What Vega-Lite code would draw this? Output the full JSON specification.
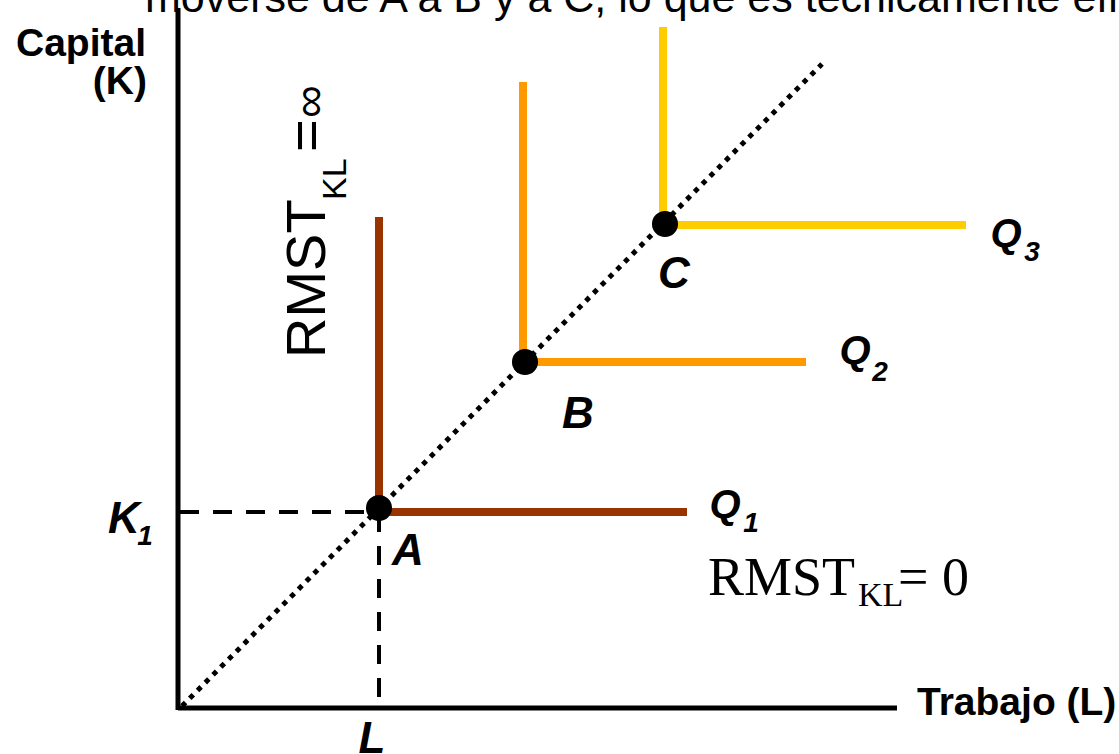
{
  "$schema": "https://vega.github.io/schema/vega-lite/v6.json",
  "width": 1119,
  "height": 754,
  "padding": 0,
  "autosize": {"type": "none"},
  "background": "white",
  "config": {"view": {"stroke": null}},
  "datasets": {
    "axes": [
      {"x": -2, "y": -2, "x2": -2, "y2": 700},
      {"x": -2, "y": 0, "x2": 717, "y2": 0}
    ],
    "dashed": [
      {"x": 0, "y": 196, "x2": 184, "y2": 196},
      {"x": 199, "y": 195, "x2": 199, "y2": 5}
    ],
    "diag": [{"x": 2, "y": 2, "x2": 642, "y2": 644}],
    "iso": [
      {"q": "Q1", "o": 1, "x": 199, "y": 491},
      {"q": "Q1", "o": 2, "x": 199, "y": 196},
      {"q": "Q1", "o": 3, "x": 507, "y": 196},
      {"q": "Q2", "o": 1, "x": 343, "y": 626},
      {"q": "Q2", "o": 2, "x": 343, "y": 346},
      {"q": "Q2", "o": 3, "x": 626, "y": 346},
      {"q": "Q3", "o": 1, "x": 483, "y": 681},
      {"q": "Q3", "o": 2, "x": 483, "y": 483},
      {"q": "Q3", "o": 3, "x": 786, "y": 483}
    ],
    "pts": [
      {"p": "A", "x": 199, "y": 200},
      {"p": "B", "x": 345, "y": 346},
      {"p": "C", "x": 485, "y": 484}
    ],
    "bigItalic": [
      {"t": "A", "x": 228, "y": 143},
      {"t": "B", "x": 398, "y": 280},
      {"t": "C", "x": 494, "y": 420},
      {"t": "K", "x": -56, "y": 175},
      {"t": "L", "x": 192, "y": -45}
    ],
    "qItalic": [
      {"t": "Q", "x": 545, "y": 190},
      {"t": "Q", "x": 675, "y": 344},
      {"t": "Q", "x": 826, "y": 461}
    ],
    "subItalic": [
      {"t": "1", "x": -35, "y": 163},
      {"t": "1", "x": 571, "y": 176},
      {"t": "2", "x": 700, "y": 327},
      {"t": "3", "x": 852, "y": 447}
    ],
    "boldRight": [
      {"t": "Capital", "x": -34, "y": 652},
      {"t": "(K)", "x": -33, "y": 614}
    ],
    "boldLeft": [
      {"t": "Trabajo (L)", "x": 737, "y": -7}
    ],
    "serifBig": [
      {"t": "RMST", "x": 528, "y": 113},
      {"t": "= 0", "x": 718, "y": 113}
    ],
    "serifSub": [
      {"t": "KL", "x": 678, "y": 102}
    ],
    "rotBig": [
      {"t": "RMST", "x": 145, "y": 350},
      {"t": "=", "x": 145, "y": 556}
    ],
    "rotInf": [
      {"t": "∞", "x": 145, "y": 590}
    ],
    "rotSub": [
      {"t": "KL", "x": 166, "y": 508}
    ],
    "top": [
      {"t": "moverse de A a B y a C, lo que es técnicamente eficiente", "x": -35, "y": 696}
    ]
  },
  "layer": [
    {
      "data": {"name": "iso"},
      "mark": {"type": "line", "strokeWidth": 8, "strokeJoin": "miter", "strokeCap": "butt"},
      "encoding": {
        "x": {"field": "x", "type": "quantitative", "scale": {"domain": [-180, 939], "nice": false, "zero": false}, "axis": null},
        "y": {"field": "y", "type": "quantitative", "scale": {"domain": [-46, 708], "nice": false, "zero": false}, "axis": null},
        "color": {"field": "q", "type": "nominal", "scale": {"domain": ["Q1", "Q2", "Q3"], "range": ["#993300", "#FF9900", "#FFCC00"]}, "legend": null},
        "order": {"field": "o", "type": "quantitative"}
      }
    },
    {
      "data": {"name": "axes"},
      "mark": {"type": "rule", "color": "black", "strokeWidth": 5},
      "encoding": {
        "x": {"field": "x", "type": "quantitative", "scale": {"domain": [-180, 939], "nice": false, "zero": false}, "axis": null},
        "y": {"field": "y", "type": "quantitative", "scale": {"domain": [-46, 708], "nice": false, "zero": false}, "axis": null},
        "x2": {"field": "x2"},
        "y2": {"field": "y2"}
      }
    },
    {
      "data": {"name": "dashed"},
      "mark": {"type": "rule", "color": "black", "strokeWidth": 4, "strokeDash": [19, 14]},
      "encoding": {
        "x": {"field": "x", "type": "quantitative", "scale": {"domain": [-180, 939], "nice": false, "zero": false}, "axis": null},
        "y": {"field": "y", "type": "quantitative", "scale": {"domain": [-46, 708], "nice": false, "zero": false}, "axis": null},
        "x2": {"field": "x2"},
        "y2": {"field": "y2"}
      }
    },
    {
      "data": {"name": "diag"},
      "mark": {"type": "rule", "color": "black", "strokeWidth": 5, "strokeDash": [5, 6]},
      "encoding": {
        "x": {"field": "x", "type": "quantitative", "scale": {"domain": [-180, 939], "nice": false, "zero": false}, "axis": null},
        "y": {"field": "y", "type": "quantitative", "scale": {"domain": [-46, 708], "nice": false, "zero": false}, "axis": null},
        "x2": {"field": "x2"},
        "y2": {"field": "y2"}
      }
    },
    {
      "data": {"name": "pts"},
      "mark": {"type": "circle", "color": "black", "opacity": 1, "size": 680},
      "encoding": {
        "x": {"field": "x", "type": "quantitative", "scale": {"domain": [-180, 939], "nice": false, "zero": false}, "axis": null},
        "y": {"field": "y", "type": "quantitative", "scale": {"domain": [-46, 708], "nice": false, "zero": false}, "axis": null}
      }
    },
    {
      "data": {"name": "bigItalic"},
      "mark": {"type": "text", "font": "Liberation Sans", "fontSize": 44, "fontWeight": "bold", "fontStyle": "italic", "align": "center", "baseline": "alphabetic", "color": "black"},
      "encoding": {
        "x": {"field": "x", "type": "quantitative", "scale": {"domain": [-180, 939], "nice": false, "zero": false}, "axis": null},
        "y": {"field": "y", "type": "quantitative", "scale": {"domain": [-46, 708], "nice": false, "zero": false}, "axis": null},
        "text": {"field": "t"}
      }
    },
    {
      "data": {"name": "qItalic"},
      "mark": {"type": "text", "font": "Liberation Sans", "fontSize": 40, "fontWeight": "bold", "fontStyle": "italic", "align": "center", "baseline": "alphabetic", "color": "black"},
      "encoding": {
        "x": {"field": "x", "type": "quantitative", "scale": {"domain": [-180, 939], "nice": false, "zero": false}, "axis": null},
        "y": {"field": "y", "type": "quantitative", "scale": {"domain": [-46, 708], "nice": false, "zero": false}, "axis": null},
        "text": {"field": "t"}
      }
    },
    {
      "data": {"name": "subItalic"},
      "mark": {"type": "text", "font": "Liberation Sans", "fontSize": 28, "fontWeight": "bold", "fontStyle": "italic", "align": "center", "baseline": "alphabetic", "color": "black"},
      "encoding": {
        "x": {"field": "x", "type": "quantitative", "scale": {"domain": [-180, 939], "nice": false, "zero": false}, "axis": null},
        "y": {"field": "y", "type": "quantitative", "scale": {"domain": [-46, 708], "nice": false, "zero": false}, "axis": null},
        "text": {"field": "t"}
      }
    },
    {
      "data": {"name": "boldRight"},
      "mark": {"type": "text", "font": "Liberation Sans", "fontSize": 39, "fontWeight": "bold", "align": "right", "baseline": "alphabetic", "color": "black"},
      "encoding": {
        "x": {"field": "x", "type": "quantitative", "scale": {"domain": [-180, 939], "nice": false, "zero": false}, "axis": null},
        "y": {"field": "y", "type": "quantitative", "scale": {"domain": [-46, 708], "nice": false, "zero": false}, "axis": null},
        "text": {"field": "t"}
      }
    },
    {
      "data": {"name": "boldLeft"},
      "mark": {"type": "text", "font": "Liberation Sans", "fontSize": 39, "fontWeight": "bold", "align": "left", "baseline": "alphabetic", "color": "black"},
      "encoding": {
        "x": {"field": "x", "type": "quantitative", "scale": {"domain": [-180, 939], "nice": false, "zero": false}, "axis": null},
        "y": {"field": "y", "type": "quantitative", "scale": {"domain": [-46, 708], "nice": false, "zero": false}, "axis": null},
        "text": {"field": "t"}
      }
    },
    {
      "data": {"name": "serifBig"},
      "mark": {"type": "text", "font": "Liberation Serif", "fontSize": 54, "align": "left", "baseline": "alphabetic", "color": "black"},
      "encoding": {
        "x": {"field": "x", "type": "quantitative", "scale": {"domain": [-180, 939], "nice": false, "zero": false}, "axis": null},
        "y": {"field": "y", "type": "quantitative", "scale": {"domain": [-46, 708], "nice": false, "zero": false}, "axis": null},
        "text": {"field": "t"}
      }
    },
    {
      "data": {"name": "serifSub"},
      "mark": {"type": "text", "font": "Liberation Serif", "fontSize": 34, "align": "left", "baseline": "alphabetic", "color": "black"},
      "encoding": {
        "x": {"field": "x", "type": "quantitative", "scale": {"domain": [-180, 939], "nice": false, "zero": false}, "axis": null},
        "y": {"field": "y", "type": "quantitative", "scale": {"domain": [-46, 708], "nice": false, "zero": false}, "axis": null},
        "text": {"field": "t"}
      }
    },
    {
      "data": {"name": "rotBig"},
      "mark": {"type": "text", "font": "Liberation Sans", "fontSize": 56, "angle": 270, "align": "left", "baseline": "alphabetic", "color": "black"},
      "encoding": {
        "x": {"field": "x", "type": "quantitative", "scale": {"domain": [-180, 939], "nice": false, "zero": false}, "axis": null},
        "y": {"field": "y", "type": "quantitative", "scale": {"domain": [-46, 708], "nice": false, "zero": false}, "axis": null},
        "text": {"field": "t"}
      }
    },
    {
      "data": {"name": "rotInf"},
      "mark": {"type": "text", "font": "Liberation Sans", "fontSize": 46, "angle": 270, "align": "left", "baseline": "alphabetic", "color": "black"},
      "encoding": {
        "x": {"field": "x", "type": "quantitative", "scale": {"domain": [-180, 939], "nice": false, "zero": false}, "axis": null},
        "y": {"field": "y", "type": "quantitative", "scale": {"domain": [-46, 708], "nice": false, "zero": false}, "axis": null},
        "text": {"field": "t"}
      }
    },
    {
      "data": {"name": "rotSub"},
      "mark": {"type": "text", "font": "Liberation Sans", "fontSize": 34, "angle": 270, "align": "left", "baseline": "alphabetic", "color": "black"},
      "encoding": {
        "x": {"field": "x", "type": "quantitative", "scale": {"domain": [-180, 939], "nice": false, "zero": false}, "axis": null},
        "y": {"field": "y", "type": "quantitative", "scale": {"domain": [-46, 708], "nice": false, "zero": false}, "axis": null},
        "text": {"field": "t"}
      }
    },
    {
      "data": {"name": "top"},
      "mark": {"type": "text", "font": "Liberation Sans", "fontSize": 43, "align": "left", "baseline": "alphabetic", "color": "black"},
      "encoding": {
        "x": {"field": "x", "type": "quantitative", "scale": {"domain": [-180, 939], "nice": false, "zero": false}, "axis": null},
        "y": {"field": "y", "type": "quantitative", "scale": {"domain": [-46, 708], "nice": false, "zero": false}, "axis": null},
        "text": {"field": "t"}
      }
    }
  ]
}
